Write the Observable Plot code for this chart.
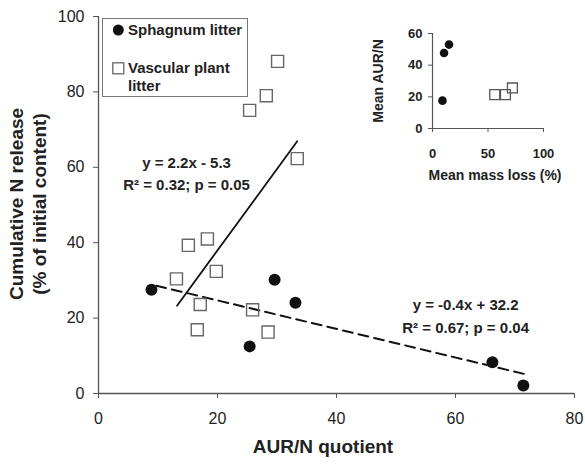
<!DOCTYPE html>
<html>
<head>
<meta charset="utf-8">
<script src="https://cdn.jsdelivr.net/npm/d3@7"></script>
<script src="https://cdn.jsdelivr.net/npm/@observablehq/plot@0.6"></script>
<style>
  body { margin: 0; background: white; }
  #wrap { position: relative; width: 585px; height: 464px; }
  #wrap svg { position: absolute; }
</style>
</head>
<body>
<div id="wrap"></div>
<script>
// ---- main chart data ----
const sphagnumX = [8.9, 29.6, 33.1, 25.4, 66.2, 71.4];
const sphagnumY = [27.5, 30.2, 24.1, 12.5, 8.3, 2.1];
const vascularX = [30.1, 28.2, 25.4, 33.4, 18.3, 15.1, 19.8, 13.1, 17.1, 25.9, 16.6, 28.5];
const vascularY = [88.1, 79.0, 75.1, 62.3, 41.0, 39.3, 32.4, 30.4, 23.6, 22.2, 16.9, 16.3];
const vascFitX = [13.2, 33.4];
const vascFitY = [23.3, 66.9];
const sphFitX = [9.7, 71.5];
const sphFitY = [28.6, 5.2];
const annText = ["y = 2.2x - 5.3", "R² = 0.32; p = 0.05", "y = -0.4x + 32.2", "R² = 0.67; p = 0.04"];
const annX = [14.8, 14.8, 61.7, 61.7];
const annY = [61.2, 55.2, 23.4, 17.3];
const xTicks = [0, 20, 40, 60, 80];
const yTicks = [0, 20, 40, 60, 80, 100];
const legendLabels = ["Sphagnum litter", "Vascular plant", "litter"];

// ---- inset data ----
const insetSphX = [14.9, 10.4, 9.0];
const insetSphY = [53.0, 47.7, 17.6];
const insetVascX = [56.1, 65.7, 72.0];
const insetVascY = [21.4, 21.4, 25.6];
const insetXTicks = [0, 50, 100];
const insetYTicks = [0, 20, 40, 60];

const font = "'Liberation Sans', Arial, Helvetica, sans-serif";
const sph = sphagnumX.map((x, i) => ({x, y: sphagnumY[i]}));
const vasc = vascularX.map((x, i) => ({x, y: vascularY[i]}));
const vFit = vascFitX.map((x, i) => ({x, y: vascFitY[i]}));
const sFit = sphFitX.map((x, i) => ({x, y: sphFitY[i]}));
const ann = annText.map((t, i) => ({t, x: annX[i], y: annY[i]}));
const iSph = insetSphX.map((x, i) => ({x, y: insetSphY[i]}));
const iVasc = insetVascX.map((x, i) => ({x, y: insetVascY[i]}));

const main = Plot.plot({
  width: 585, height: 464,
  marginLeft: 98, marginRight: 11, marginTop: 16, marginBottom: 71,
  style: {fontFamily: font, background: "transparent", color: "#222", overflow: "visible"},
  x: {domain: [0, 80]},
  y: {domain: [0, 100]},
  marks: [
    Plot.axisX({ticks: xTicks, tickSize: 5, tickPadding: 14, fontSize: 16, label: null, stroke: "#555"}),
    Plot.axisY({ticks: yTicks, tickSize: 5, tickPadding: 9, fontSize: 16, label: null, stroke: "#555"}),
    Plot.ruleX([0], {stroke: "#555", strokeWidth: 1.3}),
    Plot.ruleY([0], {stroke: "#555", strokeWidth: 1.3}),
    Plot.line(vFit, {x: "x", y: "y", stroke: "#111", strokeWidth: 1.8}),
    Plot.line(sFit, {x: "x", y: "y", stroke: "#111", strokeWidth: 2, strokeDasharray: "10,6"}),
    Plot.dot(vasc, {x: "x", y: "y", symbol: "square", r: 6.8, stroke: "#666", strokeWidth: 1.4, fill: "none"}),
    Plot.dot(sph, {x: "x", y: "y", r: 6, fill: "#111", stroke: "none"}),
    Plot.text(ann, {x: "x", y: "y", text: "t", fontSize: 15, fontWeight: "bold", fill: "#222"})
  ]
});
main.style.left = "0px"; main.style.top = "0px";
document.getElementById("wrap").appendChild(main);

const ms = d3.select(main);
// axis titles
ms.append("text").attr("x", 323).attr("y", 453).attr("text-anchor", "middle")
  .attr("font-size", 19).attr("font-weight", "bold").attr("fill", "#222").attr("font-family", font)
  .text("AUR/N quotient");
ms.append("text").attr("transform", "translate(23,204) rotate(-90)").attr("text-anchor", "middle")
  .attr("font-size", 19).attr("font-weight", "bold").attr("fill", "#222").attr("font-family", font)
  .text("Cumulative N release");
ms.append("text").attr("transform", "translate(46,204) rotate(-90)").attr("text-anchor", "middle")
  .attr("font-size", 19).attr("font-weight", "bold").attr("fill", "#222").attr("font-family", font)
  .text("(% of initial content)");

// legend
const lg = ms.append("g").attr("font-family", font).attr("font-size", 15).attr("font-weight", "bold")
  .attr("fill", "#222").attr("text-anchor", "start");
lg.append("rect").attr("x", 102.5).attr("y", 18.5).attr("width", 145).attr("height", 78)
  .attr("fill", "white").attr("stroke", "#777").attr("stroke-width", 1);
lg.append("circle").attr("cx", 118.3).attr("cy", 30).attr("r", 5.5).attr("fill", "#111");
lg.append("rect").attr("x", 112.8).attr("y", 62.8).attr("width", 11).attr("height", 11)
  .attr("fill", "none").attr("stroke", "#666").attr("stroke-width", 1.3);
lg.append("text").attr("x", 128).attr("y", 35).attr("text-anchor", "start").text(legendLabels[0]);
lg.append("text").attr("x", 128).attr("y", 73).attr("text-anchor", "start").text(legendLabels[1]);
lg.append("text").attr("x", 128).attr("y", 91).attr("text-anchor", "start").text(legendLabels[2]);

// inset
const inset = Plot.plot({
  width: 225, height: 200,
  marginLeft: 72, marginRight: 42, marginTop: 33, marginBottom: 72,
  style: {fontFamily: font, background: "transparent", color: "#222", overflow: "visible"},
  x: {domain: [0, 100]},
  y: {domain: [0, 60]},
  marks: [
    Plot.axisX({ticks: insetXTicks, tickSize: 4, tickPadding: 16, fontSize: 13, fontWeight: "bold", label: null, stroke: "#555"}),
    Plot.axisY({ticks: insetYTicks, tickSize: 4, tickPadding: 6, fontSize: 13, fontWeight: "bold", label: null, stroke: "#555"}),
    Plot.ruleX([0], {stroke: "#555", strokeWidth: 1.2}),
    Plot.ruleY([0], {stroke: "#555", strokeWidth: 1.2}),
    Plot.dot(iVasc, {x: "x", y: "y", symbol: "square", r: 5.6, stroke: "#555", strokeWidth: 1.3, fill: "none"}),
    Plot.dot(iSph, {x: "x", y: "y", r: 4.3, fill: "#111", stroke: "none"})
  ]
});
inset.style.left = "360px"; inset.style.top = "0px";
document.getElementById("wrap").appendChild(inset);
const is = d3.select(inset);
is.append("text").attr("x", 135).attr("y", 180).attr("text-anchor", "middle")
  .attr("font-size", 14).attr("font-weight", "bold").attr("fill", "#222").attr("font-family", font)
  .text("Mean mass loss (%)");
is.append("text").attr("transform", "translate(22.5,81) rotate(-90)").attr("text-anchor", "middle")
  .attr("font-size", 14).attr("font-weight", "bold").attr("fill", "#222").attr("font-family", font)
  .text("Mean AUR/N");
</script>
</body>
</html>
